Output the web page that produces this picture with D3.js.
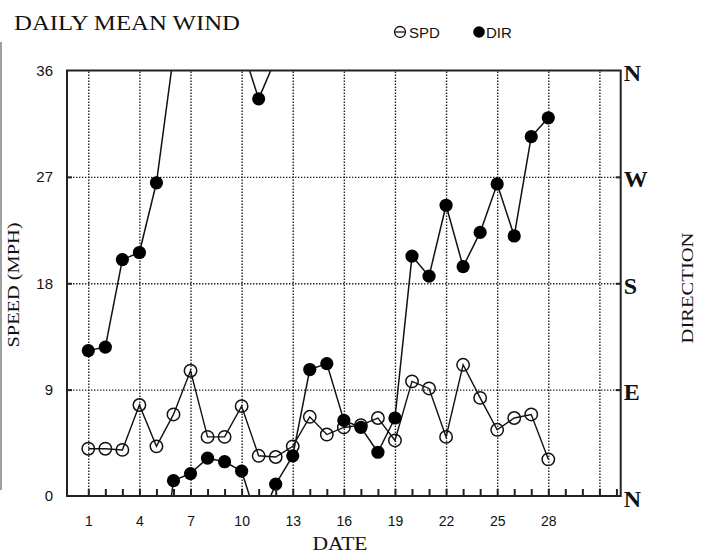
<!DOCTYPE html>
<html>
<head>
<meta charset="utf-8">
<script src="https://cdn.jsdelivr.net/npm/d3@7"></script>
<style>
  html, body { margin: 0; padding: 0; background: #fff; }
  svg { display: block; }
</style>
</head>
<body>
<svg id="chart" width="709" height="555"></svg>
<script>
// ---- data ----
const days = [1,2,3,4,5,6,7,8,9,10,11,12,13,14,15,16,17,18,19,20,21,22,23,24,25,26,27,28];
const spd  = [4.0,4.0,3.9,7.7,4.2,6.9,10.6,5.0,5.0,7.6,3.4,3.3,4.2,6.7,5.2,5.8,6.0,6.6,4.7,9.7,9.1,5.0,11.1,8.3,5.6,6.6,6.9,3.1];
const dir  = [123,126,200,206,265,13,19,32,29,21,336,10,34,107,112,64,58,37,66,203,186,246,194,223,264,220,304,320];
const xTickLabels = [1,4,7,10,13,16,19,22,25,28];
const xGridDays = [1,4,7,10,13,16,19,22,25,28,31];
const xMinorDays = [1,2,3,4,5,6,7,8,9,10,11,12,13,14,15,16,17,18,19,20,21,22,23,24,25,26,27,28,29,30,31,32];
const spdTicks = [0,9,18,27,36];
const dirTicks = [0,90,180,270,360];
const dirNames = ["N","E","S","W","N"];

// ---- layout ----
const L = 67, R = 620.7, T = 70.5, B = 496;
const svg = d3.select("#chart");
const x = d3.scaleLinear().domain([-0.25, 32.25]).range([L, R]);
const yS = d3.scaleLinear().domain([0, 36]).range([B, T]);
const yD = d3.scaleLinear().domain([0, 360]).range([B, T]);

svg.append("rect").attr("width", 709).attr("height", 555).attr("fill", "#fff");

// left gray edge line
svg.append("line").attr("x1", 1).attr("x2", 1).attr("y1", 42).attr("y2", 490)
  .attr("stroke", "#a0a0a0").attr("stroke-width", 2);

svg.append("defs").append("clipPath").attr("id", "plotclip")
  .append("rect").attr("x", L).attr("y", T).attr("width", R - L).attr("height", B - T);

// ---- grid ----
const gridColor = "#222";
svg.append("g").attr("transform", `translate(0,${B})`)
  .call(d3.axisBottom(x).tickValues(xGridDays).tickSize(-(B - T)).tickFormat(""))
  .call(g => g.select(".domain").remove())
  .call(g => g.selectAll("line").attr("stroke", gridColor).attr("stroke-width", 1.4).attr("stroke-dasharray", "1.4,1.6"));

svg.append("g").attr("transform", `translate(${L},0)`)
  .call(d3.axisLeft(yS).tickValues([9,18,27]).tickSize(-(R - L)).tickFormat(""))
  .call(g => g.select(".domain").remove())
  .call(g => g.selectAll("line").attr("stroke", gridColor).attr("stroke-width", 1.4).attr("stroke-dasharray", "1.4,1.6"));

// ---- lines ----
const plot = svg.append("g").attr("clip-path", "url(#plotclip)");
const spdLine = d3.line().x((d, i) => x(days[i])).y(d => yS(d));
plot.append("path").datum(spd).attr("d", spdLine)
  .attr("fill", "none").attr("stroke", "#111").attr("stroke-width", 1.4);

// direction segments with wrap-around at N
const segs = [];
for (let i = 0; i < dir.length - 1; i++) {
  const a = dir[i], b = dir[i + 1], d0 = days[i], d1 = days[i + 1];
  const diff = b - a;
  if (diff > 180) {
    segs.push([[d0, a], [d1, b - 360]]);
    segs.push([[d0, a + 360], [d1, b]]);
  } else if (diff < -180) {
    segs.push([[d0, a], [d1, b + 360]]);
    segs.push([[d0, a - 360], [d1, b]]);
  } else {
    segs.push([[d0, a], [d1, b]]);
  }
}
const dirLine = d3.line().x(p => x(p[0])).y(p => yD(p[1]));
plot.selectAll("path.dir").data(segs).join("path").attr("class", "dir")
  .attr("d", dirLine).attr("fill", "none").attr("stroke", "#111").attr("stroke-width", 1.5);

// ---- markers ----
svg.append("g").selectAll("circle").data(spd).join("circle")
  .attr("cx", (d, i) => x(days[i])).attr("cy", d => yS(d)).attr("r", 6.2)
  .attr("fill", "none").attr("stroke", "#111").attr("stroke-width", 1.5);

svg.append("g").selectAll("circle").data(dir).join("circle")
  .attr("cx", (d, i) => x(days[i])).attr("cy", d => yD(d)).attr("r", 6.6)
  .attr("fill", "#000");

// ---- frame ----
svg.append("rect").attr("x", L).attr("y", T).attr("width", R - L).attr("height", B - T)
  .attr("fill", "none").attr("stroke", "#222").attr("stroke-width", 2);

// minor ticks at bottom
svg.append("g").attr("transform", `translate(0,${B})`)
  .call(d3.axisBottom(x).tickValues(xMinorDays).tickSize(-7).tickFormat(""))
  .call(g => g.select(".domain").remove())
  .call(g => g.selectAll("line").attr("stroke", "#222").attr("stroke-width", 2));

// short solid ticks on left and right
svg.append("g").attr("transform", `translate(${L},0)`)
  .call(d3.axisLeft(yS).tickValues([9,18,27]).tickSize(-5).tickFormat(""))
  .call(g => g.select(".domain").remove())
  .call(g => g.selectAll("line").attr("stroke", "#222").attr("stroke-width", 2));
svg.append("g").attr("transform", `translate(${R},0)`)
  .call(d3.axisRight(yD).tickValues([90,180,270]).tickSize(-5).tickFormat(""))
  .call(g => g.select(".domain").remove())
  .call(g => g.selectAll("line").attr("stroke", "#222").attr("stroke-width", 2));

// ---- axis labels ----
const sans = "'Liberation Sans', Arial, sans-serif";
const serif = "'Liberation Serif', 'Times New Roman', serif";

svg.append("g").attr("transform", `translate(0,${B})`)
  .call(d3.axisBottom(x).tickValues(xTickLabels).tickSize(0).tickPadding(20))
  .call(g => g.select(".domain").remove())
  .call(g => g.selectAll("text").attr("font-family", sans).attr("font-size", 14).attr("fill", "#111"));

svg.append("g").attr("transform", `translate(${L},0)`)
  .call(d3.axisLeft(yS).tickValues(spdTicks).tickSize(0).tickPadding(14))
  .call(g => g.select(".domain").remove())
  .call(g => g.selectAll("text").attr("font-family", sans).attr("font-size", 15).attr("fill", "#111"));

svg.append("g").attr("transform", `translate(${R},0)`)
  .call(d3.axisRight(yD).tickValues(dirTicks).tickSize(0).tickPadding(3)
    .tickFormat((d, i) => dirNames[i]))
  .call(g => g.select(".domain").remove())
  .call(g => g.selectAll("text").attr("font-family", serif).attr("font-weight", "bold")
    .attr("font-size", 24).attr("fill", "#111").attr("dy", "0.42em"));

// ---- titles ----
svg.append("text").attr("x", 14).attr("y", 30).attr("font-family", serif).attr("font-size", 21)
  .attr("textLength", 226).attr("lengthAdjust", "spacingAndGlyphs").attr("fill", "#111")
  .text("DAILY MEAN WIND");

svg.append("text").attr("transform", "translate(19,285) rotate(-90)").attr("text-anchor", "middle")
  .attr("font-family", serif).attr("font-size", 17).attr("textLength", 125)
  .attr("lengthAdjust", "spacingAndGlyphs").attr("fill", "#111").text("SPEED (MPH)");

svg.append("text").attr("transform", "translate(693,288) rotate(-90)").attr("text-anchor", "middle")
  .attr("font-family", serif).attr("font-size", 17).attr("textLength", 111)
  .attr("lengthAdjust", "spacingAndGlyphs").attr("fill", "#111").text("DIRECTION");

svg.append("text").attr("x", 340).attr("y", 550).attr("text-anchor", "middle")
  .attr("font-family", serif).attr("font-size", 18).attr("textLength", 55)
  .attr("lengthAdjust", "spacingAndGlyphs").attr("fill", "#111").text("DATE");

// ---- legend ----
const lg = svg.append("g");
lg.append("circle").attr("cx", 400).attr("cy", 32).attr("r", 5.5).attr("fill", "none")
  .attr("stroke", "#111").attr("stroke-width", 1.3);
lg.append("line").attr("x1", 394).attr("x2", 406).attr("y1", 32).attr("y2", 32)
  .attr("stroke", "#111").attr("stroke-width", 1.3);
lg.append("text").attr("x", 409).attr("y", 37.5).attr("font-family", sans).attr("font-size", 15)
  .attr("fill", "#111").text("SPD");
lg.append("circle").attr("cx", 479).attr("cy", 32).attr("r", 5.8).attr("fill", "#000");
lg.append("text").attr("x", 486).attr("y", 37.5).attr("font-family", sans).attr("font-size", 15)
  .attr("fill", "#111").text("DIR");
</script>
</body>
</html>
